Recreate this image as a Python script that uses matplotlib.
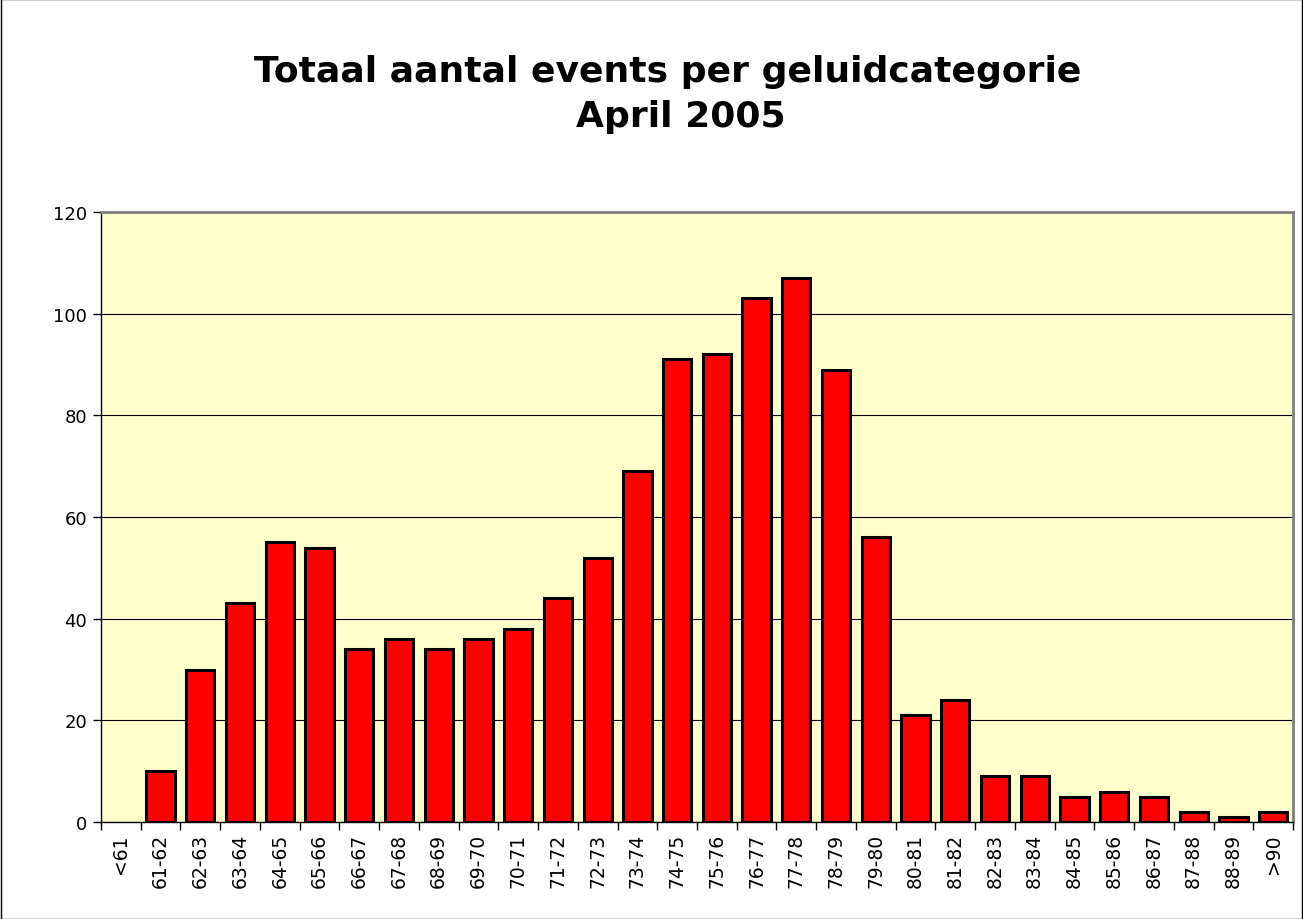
import matplotlib
matplotlib.use("Agg")
import matplotlib.pyplot as plt
from matplotlib.patches import Rectangle
import numpy as np

categories = ["<61", "61-62", "62-63", "63-64", "64-65", "65-66", "66-67", "67-68",
              "68-69", "69-70", "70-71", "71-72", "72-73", "73-74", "74-75", "75-76",
              "76-77", "77-78", "78-79", "79-80", "80-81", "81-82", "82-83", "83-84",
              "84-85", "85-86", "86-87", "87-88", "88-89", ">90"]
counts = [0, 10, 30, 43, 55, 54, 34, 36, 34, 36, 38, 44, 52, 69, 91, 92,
          103, 107, 89, 56, 21, 24, 9, 9, 5, 6, 5, 2, 1, 2]
yticks = [0, 20, 40, 60, 80, 100, 120]
title_line1 = "Totaal aantal events per geluidcategorie"
title_line2 = "April 2005"

W, H = 1303, 920
fig = plt.figure(figsize=(W / 100, H / 100), dpi=100)
fig.patches.append(Rectangle((0.0005, 0.0005), 0.999, 0.999, transform=fig.transFigure,
                             fill=False, edgecolor="black", linewidth=1.0))
ax = fig.add_axes([101 / W, 1 - 823 / H, (1293 - 101) / W, (823 - 213) / H])
ax.set_facecolor("#FFFFCC")

x = np.arange(len(categories))
edge_widths = [0 if v == 0 else 2.2 for v in counts]
ax.bar(x, counts, width=0.71, color="#FF0000", edgecolor="black",
       linewidth=edge_widths, zorder=3)

ax.set_xlim(-0.5, len(categories) - 0.5)
ax.set_ylim(0, 120)
ax.set_yticks(yticks)
ax.set_yticklabels([str(v) for v in yticks], fontsize=13)
ax.yaxis.grid(True, color="black", linewidth=0.8, zorder=1)
ax.set_axisbelow(True)

ax.set_xticks(np.arange(len(categories) + 1) - 0.5, minor=False)
ax.set_xticklabels([])
ax.set_xticks(x, minor=True)
ax.set_xticklabels(categories, minor=True, rotation=90, fontsize=13.5)
ax.tick_params(axis="x", which="minor", length=0, pad=8)
ax.tick_params(axis="x", which="major", length=6, width=1, color="black", direction="out")
ax.tick_params(axis="y", length=6, width=1, direction="out", pad=4)

for s in ["left", "bottom"]:
    ax.spines[s].set_color("black")
    ax.spines[s].set_linewidth(1.0)
for s in ["top", "right"]:
    ax.spines[s].set_color("#808080")
    ax.spines[s].set_linewidth(2.0)

fig.text(668 / W, 1 - 82 / H, title_line1, ha="center", va="baseline", fontsize=26,
         fontweight="bold")
fig.text(681 / W, 1 - 127 / H, title_line2, ha="center", va="baseline", fontsize=26,
         fontweight="bold")

fig.savefig("out.png", dpi=100)
